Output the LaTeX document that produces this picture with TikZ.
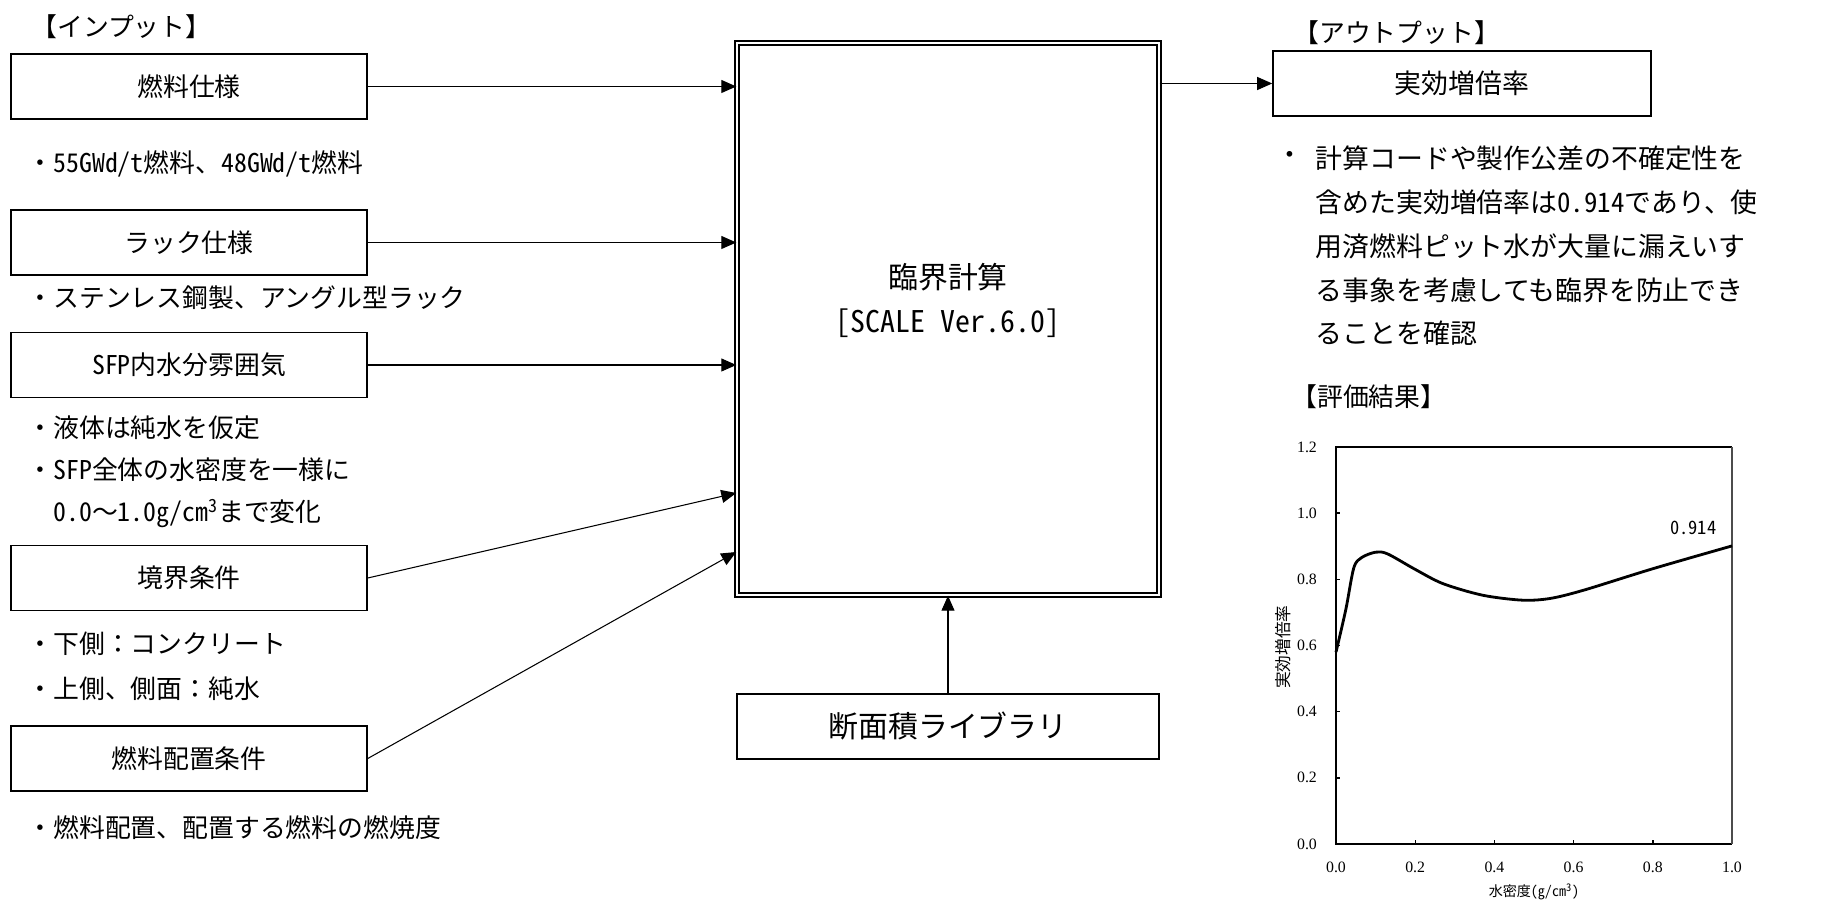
\documentclass[tikz,border=0pt]{standalone}
\usepackage{fontspec}
\setmainfont{Noto Sans CJK JP}[RawFeature=+hwid]
\newfontfamily\fwfont{Noto Sans CJK JP}
\newfontfamily\tickfont{Liberation Serif}
\usetikzlibrary{arrows.meta}
\tikzstyle{inbox}=[draw, line width=0.9pt, minimum width=7.12cm,
  minimum height=1.3cm, font=\fontsize{14.7}{18}\selectfont]
\tikzstyle{outbox} = [inbox, minimum width=7.56cm,
  font=\fontsize{15.3}{18}\selectfont]
\tikzstyle{libbox} = [inbox, minimum width=8.44cm,
  font=\fontsize{17}{20}\selectfont]
\tikzstyle{calcbox} = [draw, line width=0.8pt, double, double distance=1.5pt,
  minimum width=8.44cm, minimum height=11.04cm]
\tikzstyle{note} = [anchor=west, align=left, inner sep=0pt,
  font=\fontsize{14.7}{25.5}\selectfont]
\tikzstyle{heading} = [note]
\tikzstyle{line} = [draw, line width=0.6pt, -{Triangle[length=0.3cm,width=0.26cm]}]
\tikzstyle{ticklbl} = [inner sep=0pt, font=\tickfont\fontsize{9}{10}\selectfont]
\newcommand{\inlayer}[2]{node (#1) [inbox] {#2}}

\begin{document}
\begin{tikzpicture}
  \useasboundingbox (0,0) rectangle (36.68,-18.4);

  % input side
  \node (INTITLE) [heading] at (0.62,-0.54) {【インプット】};
  \path (3.78,-1.73) \inlayer{FUEL}{燃料仕様};
  \path (FUEL)+(0,-3.12) \inlayer{RACK}{ラック仕様};
  \path (RACK)+(0,-2.45) \inlayer{SFP}{SFP内水分雰囲気};
  \path (SFP)+(0,-4.26) \inlayer{BOUND}{境界条件};
  \path (BOUND)+(0,-3.61) \inlayer{LAYOUT}{燃料配置条件};

  \path (FUEL.south west)+(0.34,-0.88) node (FUELNOTE) [note]
    {・55GWd/t燃料、48GWd/t燃料};
  \path (RACK.south west)+(0.34,-0.44) node (RACKNOTE) [note]
    {・ステンレス鋼製、アングル型ラック};
  \path (SFP.south west)+(0.34,-1.47) node (SFPNOTE) [note,
    font=\fontsize{14.7}{24}\selectfont]
    {・液体は純水を仮定\\・SFP全体の水密度を一様に\\\hspace{1em}0.0{\fwfont 〜}1.0g/cm\textsuperscript{3}まで変化};
  \path (BOUND.south west)+(0.34,-1.10) node (BOUNDNOTE) [note]
    {・下側{\fwfont ：}コンクリート\\・上側、側面{\fwfont ：}純水};
  \path (LAYOUT.south west)+(0.34,-0.72) node (LAYOUTNOTE) [note]
    {・燃料配置、配置する燃料の燃焼度};

  % calculation
  \path (18.96,-6.38) node (CALC) [calcbox] {};
  \path (CALC.center)+(0,0.37) node (CALCTXT) [align=center,
    font=\fontsize{17}{25.5}\selectfont] {臨界計算\\{[}SCALE Ver.6.0{]}};
  \path (18.96,-14.53) node (XSLIB) [libbox] {断面積ライブラリ};

  % output side
  \node (OUTTITLE) [heading] at (25.86,-0.66) {【アウトプット】};
  \path (29.24,-1.67) node (KEFF) [outbox] {実効増倍率};
  \path (KEFF.south west)+(0.08,-0.82) node (KEFFDOT) [note,
    font=\fontsize{15.3}{25}\selectfont] {・};
  \path (KEFF.south west)+(0.86,-2.58) node (KEFFNOTE) [note,
    font=\fontsize{15.3}{25}\selectfont]
    {計算コードや製作公差の不確定性を\\含めた実効増倍率は0.914であり、使\\用済燃料ピット水が大量に漏えいす\\る事象を考慮しても臨界を防止でき\\ることを確認};
  \node (EVALTITLE) [heading] at (25.82,-7.94) {【評価結果】};

  % arrows
  \path [line] (FUEL.east) -- (FUEL.east -| CALC.west);
  \path [line] (RACK.east) -- (RACK.east -| CALC.west);
  \path [line] (SFP.east) -- (SFP.east -| CALC.west);
  \path [line] (BOUND.east) -- ([yshift=-3.48cm]CALC.west);
  \path [line] (LAYOUT.east) -- ([yshift=-4.66cm]CALC.west);
  \path [line] (XSLIB.north) -- (CALC.south);
  \path [line] (CALC.east |- KEFF.west) -- (KEFF.west);

  % result graph
  \begin{scope}[shift={(26.72,-16.88)}, x=7.92cm, y=6.617cm]
    \draw [line width=1.3pt] (1,1.2) -- (0,1.2) -- (0,0) -- (1,0);
    \draw [line width=0.7pt, black!70] (1,0) -- (1,1.2);
    \foreach \xv in {0.2,0.4,0.6,0.8}
      \draw [line width=0.8pt] (\xv,0) -- ++(0,0.08cm);
    \foreach \yv in {0.2,0.4,0.6,0.8,1.0}
      \draw [line width=0.8pt] (0,\yv) -- ++(0.08cm,0);
    \foreach \xv [count=\i] in {0.0,0.2,0.4,0.6,0.8,1.0}
      \node (XT\i) [ticklbl] at ([yshift=-0.46cm]\xv,0) {\xv};
    \foreach \yv [count=\i] in {0.0,0.2,0.4,0.6,0.8,1.0,1.2}
      \node (YT\i) [ticklbl] at ([xshift=-0.58cm]0,\yv) {\yv};
    \draw [line width=1.6pt, line join=round] plot [smooth, tension=0.5]
      coordinates {(0,0.58) (0.025,0.71) (0.045,0.835) (0.065,0.866)
        (0.1,0.882) (0.13,0.877) (0.2,0.83) (0.27,0.787) (0.37,0.752)
        (0.47,0.737) (0.54,0.742) (0.625,0.767) (0.8,0.832) (1,0.901)};
    \node (KLBL) [inner sep=0pt, font=\fontsize{10.5}{12}\selectfont]
      at (0.902,0.955) {0.914};
    \node (XLBL) [inner sep=0pt, font=\fontsize{8}{9}\selectfont]
      at ([yshift=-0.96cm]0.5,0) {水密度(g/cm\textsuperscript{3})};
    \node (YLBL) [inner sep=0pt, rotate=90, font=\fontsize{9.5}{11}\selectfont]
      at ([xshift=-1.06cm]0,0.595) {実効増倍率};
  \end{scope}

\end{tikzpicture}
\end{document}
